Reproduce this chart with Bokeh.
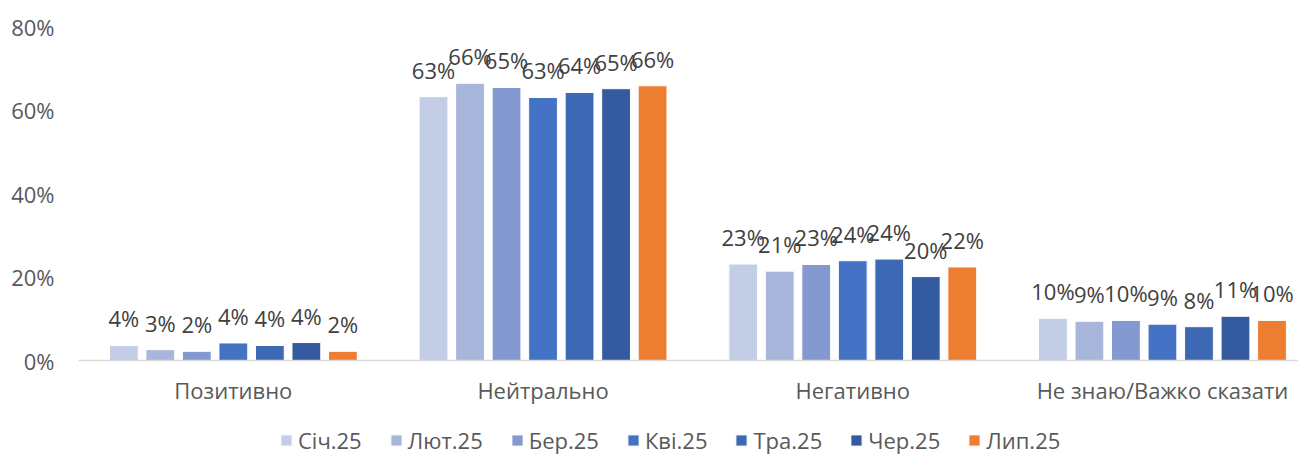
from bokeh.plotting import figure
from bokeh.models import (ColumnDataSource, Range1d, FixedTicker, LabelSet,
                          Legend, LegendItem, PrintfTickFormatter)
from bokeh.core.properties import value
from bokeh.embed import file_html
from bokeh.resources import INLINE

categories = ["Позитивно", "Нейтрально", "Негативно", "Не знаю/Важко сказати"]
months = ["Січ.25", "Лют.25", "Бер.25", "Кві.25", "Тра.25", "Чер.25", "Лип.25"]

# values in percent, per month, in category order
sich = [3.6, 63.2, 23.1, 10.1]
lyut = [2.6, 66.4, 21.4, 9.4]
ber = [2.2, 65.4, 23.0, 9.6]
kvi = [4.2, 63.0, 23.9, 8.7]
tra = [3.6, 64.2, 24.3, 8.1]
cher = [4.3, 65.1, 20.1, 10.6]
lyp = [2.2, 65.8, 22.4, 9.6]
series = [sich, lyut, ber, kvi, tra, cher, lyp]

colors = ["#C3CDE6", "#A9B6DC", "#8399D0", "#4472C4", "#3D69B4", "#345A9F", "#ED7D31"]

y_ticks = [0, 20, 40, 60, 80]

FONT = "Open Sans"
FS = "22px"
cat_px = 309.7
frame_w = 1220
plot_h = 334          # pixels between 0% and 80%
frame_h = 428         # frame extends below the baseline to hold labels and legend
y_start = -80.0 * (frame_h - plot_h) / plot_h
pitch = 0.1179
bar_w = 0.093

p = figure(frame_width=frame_w, frame_height=frame_h, output_backend="svg", toolbar_location=None,
           x_range=Range1d(-0.5, -0.5 + frame_w / cat_px), y_range=Range1d(y_start, 80),
           min_border_left=78, min_border_right=0, min_border_top=26, min_border_bottom=0)
p.outline_line_color = None
p.xgrid.visible = False
p.ygrid.visible = False
p.background_fill_color = "white"
p.border_fill_color = "white"

items = []
for j, (m, vals) in enumerate(zip(months, series)):
    xs = [i + (j - 3) * pitch for i in range(len(categories))]
    src = ColumnDataSource(dict(x=xs, top=vals, lab=[f"{v:.0f}%" for v in vals]))
    r = p.vbar(x="x", top="top", width=bar_w, bottom=0, source=src,
               fill_color=colors[j], line_color="white", line_width=1)
    items.append(LegendItem(label=m, renderers=[r]))
    ls = LabelSet(x="x", y="top", text="lab", source=src, y_offset=18,
                  text_align="center", text_baseline="alphabetic",
                  text_font=value(FONT), text_font_size=value(FS), text_color="#404040")
    p.add_layout(ls)

# axes
p.xaxis.fixed_location = 0
p.xaxis.ticker = FixedTicker(ticks=list(range(len(categories))))
p.xaxis.major_label_overrides = {i: c for i, c in enumerate(categories)}
p.xaxis.axis_line_color = "#D9D9D9"
p.xaxis.axis_line_width = 1.5
p.xaxis.major_tick_line_color = None
p.xaxis.minor_tick_line_color = None
p.xaxis.major_label_text_font = FONT
p.xaxis.major_label_text_font_size = FS
p.xaxis.major_label_text_color = "#595959"
p.xaxis.major_label_standoff = 8

p.yaxis.ticker = FixedTicker(ticks=y_ticks)
p.yaxis.formatter = PrintfTickFormatter(format="%d%%")
p.yaxis.axis_line_color = None
p.yaxis.major_tick_line_color = None
p.yaxis.minor_tick_line_color = None
p.yaxis.major_label_text_font = FONT
p.yaxis.major_label_text_font_size = FS
p.yaxis.major_label_text_color = "#595959"
p.yaxis.major_label_standoff = 18

legend = Legend(items=items, orientation="horizontal", location=(201, -1),
                glyph_width=14, glyph_height=14, label_standoff=5, spacing=27,
                padding=0, margin=0, border_line_color=None,
                background_fill_alpha=0,
                label_text_font=FONT, label_text_font_size=FS,
                label_text_color="#595959")
p.add_layout(legend, "center")

open("out.html", "w").write(file_html(p, INLINE))
